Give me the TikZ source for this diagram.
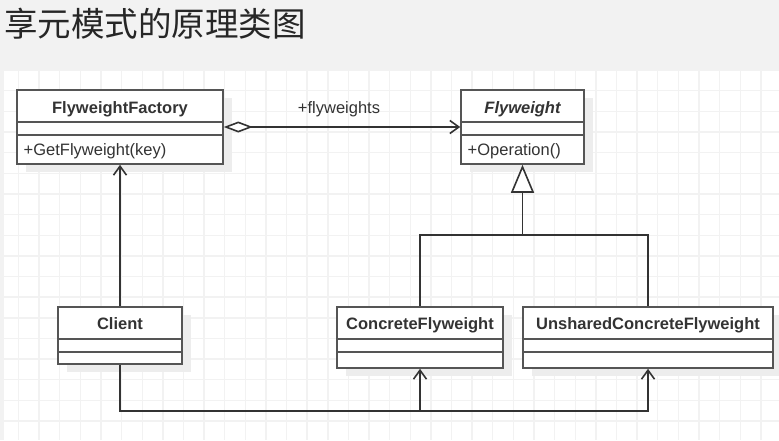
\documentclass[tikz,border=0pt]{standalone}
\usepackage{fontspec}
\newfontfamily\uml{Liberation Sans}
\newfontfamily\cjk{Noto Sans CJK SC}
\usetikzlibrary{arrows.meta}
\definecolor{bggray}{HTML}{F2F2F2}
\definecolor{gridc}{HTML}{F2F2F2}
\definecolor{boxc}{HTML}{555555}
\definecolor{linec}{HTML}{333333}
\definecolor{txtc}{HTML}{333333}
\definecolor{shad}{HTML}{EDEDED}
\begin{document}
\begin{tikzpicture}[x=1pt,y=-1pt,
  cls/.style={draw=boxc, line width=1.6pt, fill=white, rectangle, inner sep=0pt},
  divline/.style={draw=boxc, line width=1.6pt},
  shadowbox/.style={fill=shad, draw=none},
  ttl/.style={font=\uml\bfseries\fontsize{16.5}{18}\selectfont, text=txtc, anchor=base, inner sep=0pt},
  ttli/.style={font=\uml\bfseries\itshape\fontsize{16.5}{18}\selectfont, text=txtc, anchor=base, inner sep=0pt},
  meth/.style={font=\uml\fontsize{16.5}{18}\selectfont, text=txtc, anchor=base west, inner sep=0pt},
  lbl/.style={font=\uml\fontsize{16.5}{18}\selectfont, text=txtc, anchor=base, inner sep=0pt},
  assoc/.style={draw=linec, line width=1.6pt, -{Straight Barb[length=9pt,width=13pt]}},
  agg/.style={draw=linec, line width=1.6pt, {Diamond[fill=white,length=29pt,width=11pt]}-{Straight Barb[length=9pt,width=13pt]}},
  gen/.style={draw=linec, line width=1.8pt, -{Triangle[fill=white,length=28pt,width=23pt,line width=1.6pt]}},
  plain/.style={draw=linec, line width=1.6pt},
  gridline/.style={draw=gridc, line width=1.4pt}
]
\useasboundingbox (0,0) rectangle (779,440);
% background
\fill[bggray] (0,0) rectangle (779,440);
\fill[white] (4,71) rectangle (779,440);
\foreach \i in {0,...,36} {\draw[gridline] (18.5+20.62*\i,71) -- (18.5+20.62*\i,440);}
\foreach \j in {1,...,17} {\draw[gridline] (4,70+20.65*\j) -- (779,70+20.65*\j);}
% title
\node[anchor=west, inner sep=0pt, font=\cjk\fontsize{33.5}{36}\selectfont, text=black!85] (title) at (4,24) {享元模式的原理类图};
% shadows
\fill[shadowbox] (26,98) rectangle (232,172);
\fill[shadowbox] (470,98) rectangle (593,172);
\fill[shadowbox] (67,315) rectangle (191,372);
\fill[shadowbox] (346,315) rectangle (512,376);
\fill[shadowbox] (532,315) rectangle (782,376);
% classes
\node[cls, minimum width=206pt, minimum height=74pt] (fac) at (120,127) {};
\draw[divline] (fac.west |- 0,122) -- (fac.east |- 0,122);
\draw[divline] (fac.west |- 0,135) -- (fac.east |- 0,135);
\node[ttl] (facname) at (120,113) {FlyweightFactory};
\node[meth] (facop) at (23.5,155) {+GetFlyweight(key)};

\node[cls, minimum width=123pt, minimum height=74pt] (fly) at (522.5,127) {};
\draw[divline] (fly.west |- 0,122) -- (fly.east |- 0,122);
\draw[divline] (fly.west |- 0,135) -- (fly.east |- 0,135);
\node[ttli] (flyname) at (522.5,113) {Flyweight};
\node[meth] (flyop) at (467.5,155) {+Operation()};

\node[cls, minimum width=124pt, minimum height=57pt] (cli) at (120,335.5) {};
\draw[divline] (cli.west |- 0,339) -- (cli.east |- 0,339);
\draw[divline] (cli.west |- 0,352) -- (cli.east |- 0,352);
\node[ttl] (cliname) at (120,329) {Client};

\node[cls, minimum width=166pt, minimum height=61pt] (con) at (420,337.5) {};
\draw[divline] (con.west |- 0,339) -- (con.east |- 0,339);
\draw[divline] (con.west |- 0,352) -- (con.east |- 0,352);
\node[ttl] (conname) at (420,329) {ConcreteFlyweight};

\node[cls, minimum width=250pt, minimum height=61pt] (uns) at (648,337.5) {};
\draw[divline] (uns.west |- 0,339) -- (uns.east |- 0,339);
\draw[divline] (uns.west |- 0,352) -- (uns.east |- 0,352);
\node[ttl] (unsname) at (648,329) {UnsharedConcreteFlyweight};

% connectors
\draw[agg] (fac.east) -- (fly.west);
\node[lbl] (aggl) at (339,113) {+flyweights};
\draw[assoc] (cli.north) -- (fac.south);
\coordinate (jn) at (522.5,235);
\draw[plain] (con.north) |- (jn);
\draw[plain] (uns.north) |- (jn);
\draw[gen] (jn) -- (fly.south);
\draw[assoc] (cli.south) -- ++(0,46) -| (con.south);
\draw[assoc] (cli.south) -- ++(0,46) -| (uns.south);
\end{tikzpicture}
\end{document}
